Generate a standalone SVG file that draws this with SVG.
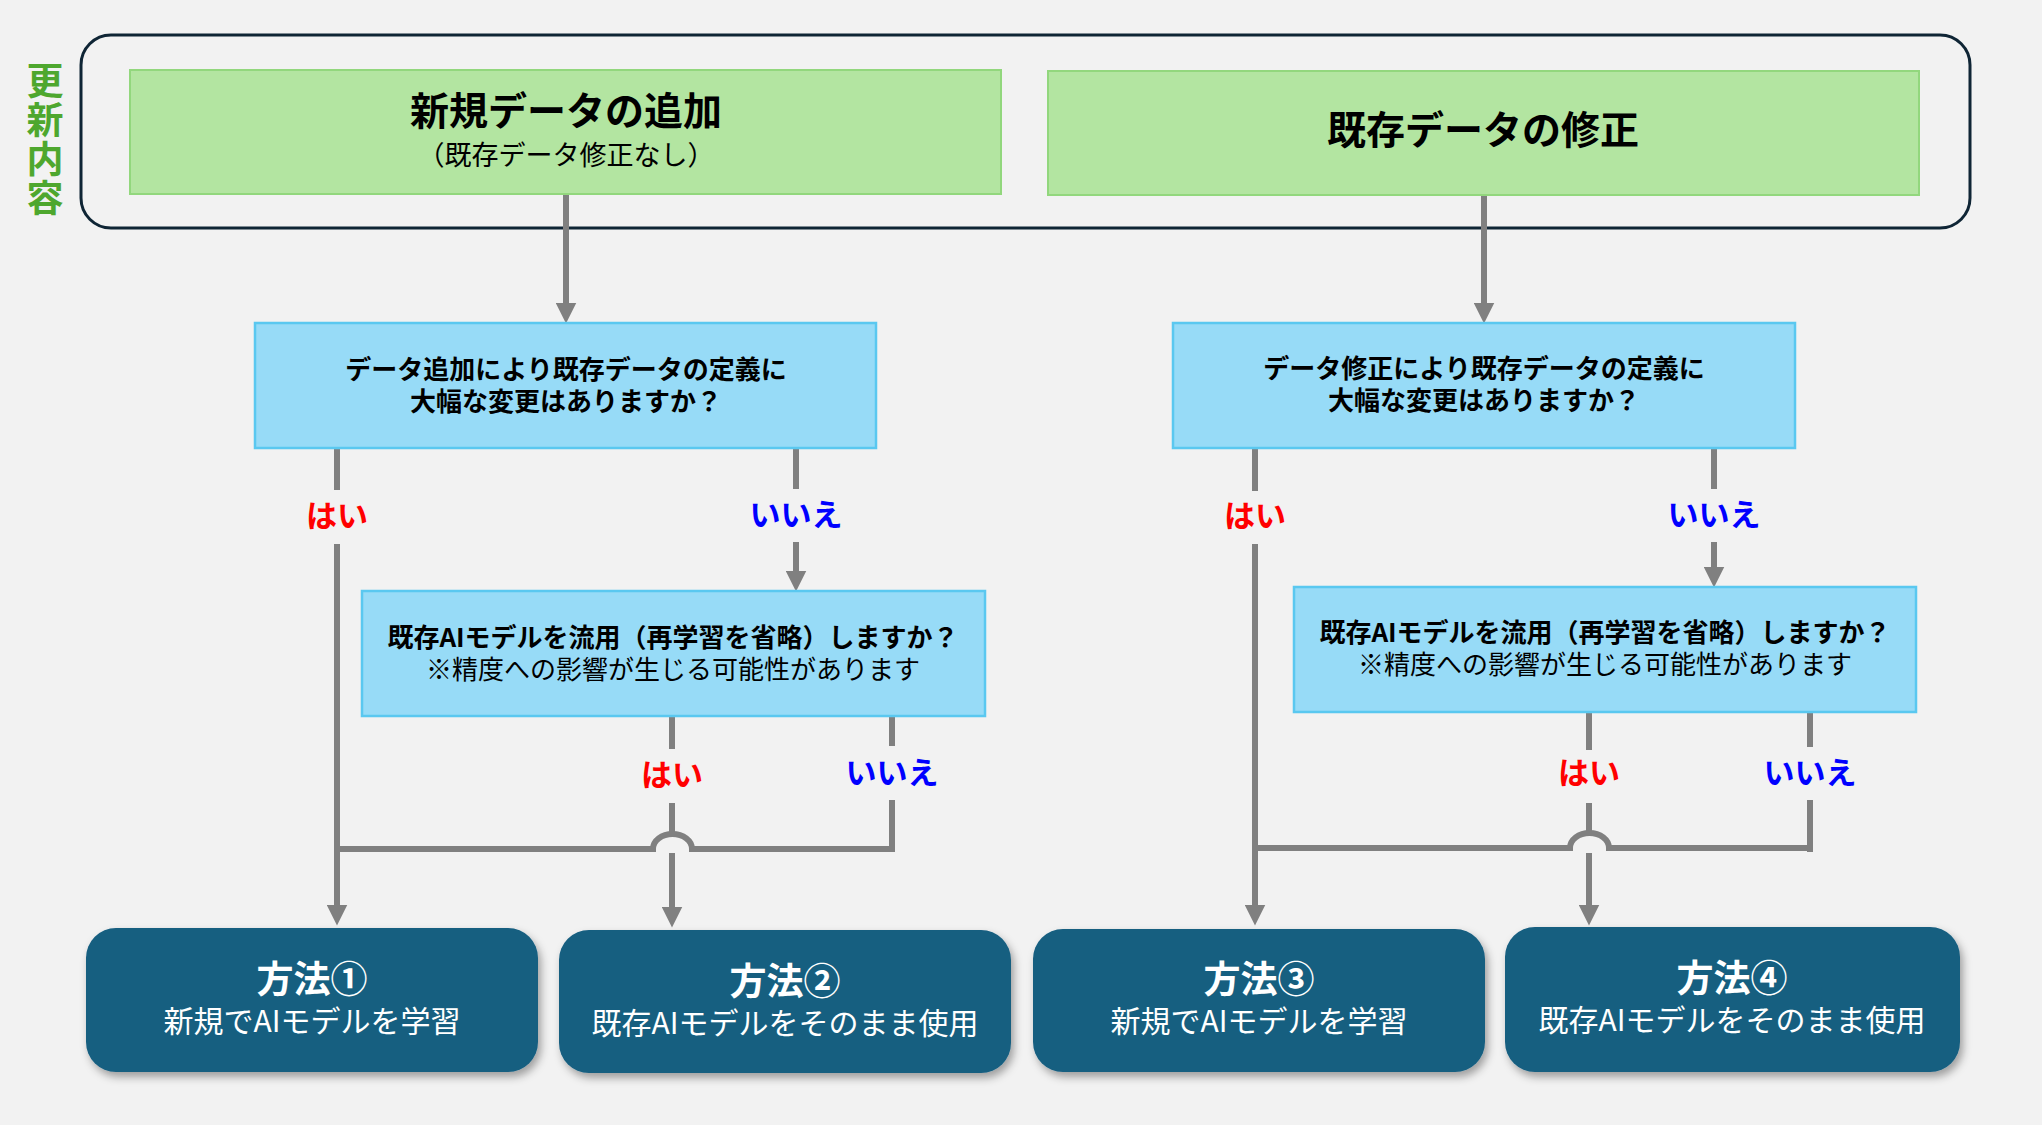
<svg xmlns="http://www.w3.org/2000/svg" width="2042" height="1125" viewBox="0 0 2042 1125">
<defs>
<style>
text{font-family:"Noto Sans CJK JP","Noto Sans",sans-serif;text-anchor:middle;dominant-baseline:central}
.b{font-weight:700}
.r{font-weight:400}
.green{fill:#b3e5a1;stroke:#92d77d;stroke-width:2}
.blue{fill:#97dbf7;stroke:#5ac8f0;stroke-width:2.5}
.method{fill:#175e80}
.conn{fill:none;stroke:#808080;stroke-width:6}
.yes{fill:#ff0000;font-weight:700;font-size:31px}
.no{fill:#0000ff;font-weight:700;font-size:31px}
.wt{fill:#ffffff}
</style>
<marker id="ah" markerUnits="userSpaceOnUse" viewBox="0 0 20 20" markerWidth="21" markerHeight="21" refX="10" refY="10" orient="auto">
<path d="M0,0 L20,10 L0,20 Z" fill="#808080"/>
</marker>
<filter id="sh" x="-10%" y="-10%" width="125%" height="130%">
<feDropShadow dx="3" dy="5" stdDeviation="4" flood-color="#000" flood-opacity="0.35"/>
</filter>
</defs>
<rect width="2042" height="1125" fill="#f2f2f2"/>

<g id="label-koushin">
<text x="45" y="140" class="b" font-size="37" fill="#4ea72e" writing-mode="vertical-rl" letter-spacing="2">更新内容</text>
</g>

<g id="frame">
<rect x="81" y="35" width="1889" height="193" rx="30" ry="30" fill="none" stroke="#0f2535" stroke-width="3"/>
</g>

<g id="connectors">
<path class="conn" d="M566 194 V313" marker-end="url(#ah)"/>
<path class="conn" d="M337 448 V490 M337 544 V915" marker-end="url(#ah)"/>
<path class="conn" d="M796 448 V489"/>
<path class="conn" d="M796 542 V581" marker-end="url(#ah)"/>
<path class="conn" d="M672 716 V749 M672 803 V834"/>
<path class="conn" d="M672 853 V917" marker-end="url(#ah)"/>
<path class="conn" d="M892 716 V746 M892 800 V852"/>
<path class="conn" d="M337 849 H653 A19.5 15 0 0 1 692 849 H892"/>

<path class="conn" d="M1484 195 V313" marker-end="url(#ah)"/>
<path class="conn" d="M1255 448 V491 M1255 544 V915" marker-end="url(#ah)"/>
<path class="conn" d="M1714 448 V489"/>
<path class="conn" d="M1714 542 V577" marker-end="url(#ah)"/>
<path class="conn" d="M1589 712 V750 M1589 803 V833"/>
<path class="conn" d="M1589 853 V915" marker-end="url(#ah)"/>
<path class="conn" d="M1810 712 V747 M1810 800 V852"/>
<path class="conn" d="M1255 848 H1570 A19.5 15 0 0 1 1609 848 H1810"/>

<text x="337" y="513" class="yes">はい</text>
<text x="796" y="512" class="no">いいえ</text>
<text x="672" y="772" class="yes">はい</text>
<text x="892" y="770" class="no">いいえ</text>
<text x="1255" y="513" class="yes">はい</text>
<text x="1714" y="512" class="no">いいえ</text>
<text x="1589" y="770" class="yes">はい</text>
<text x="1810" y="770" class="no">いいえ</text>
</g>

<g id="new-data">
<rect class="green" x="130" y="70" width="871" height="124"/>
<text><tspan x="566" y="108" class="b" font-size="39">新規データの追加</tspan><tspan x="566" y="153" class="r" font-size="27">（既存データ修正なし）</tspan></text>
</g>

<g id="modify-data">
<rect class="green" x="1048" y="71" width="871" height="124"/>
<text x="1483" y="127" class="b" font-size="39">既存データの修正</text>
</g>

<g id="q1-left">
<rect class="blue" x="255" y="323" width="621" height="125"/>
<text class="b" font-size="26"><tspan x="566" y="367">データ追加により既存データの定義に</tspan><tspan x="566" y="399">大幅な変更はありますか？</tspan></text>
</g>

<g id="q1-right">
<rect class="blue" x="1173" y="323" width="622" height="125"/>
<text class="b" font-size="26"><tspan x="1484" y="366">データ修正により既存データの定義に</tspan><tspan x="1484" y="398">大幅な変更はありますか？</tspan></text>
</g>

<g id="q2-left">
<rect class="blue" x="362" y="591" width="623" height="125"/>
<text font-size="26"><tspan x="673" y="635" class="b">既存AIモデルを流用（再学習を省略）しますか？</tspan><tspan x="673" y="667" class="r">※精度への影響が生じる可能性があります</tspan></text>
</g>

<g id="q2-right">
<rect class="blue" x="1294" y="587" width="622" height="125"/>
<text font-size="26"><tspan x="1605" y="630" class="b">既存AIモデルを流用（再学習を省略）しますか？</tspan><tspan x="1605" y="662" class="r">※精度への影響が生じる可能性があります</tspan></text>
</g>

<g id="method1">
<rect class="method" x="86" y="928" width="452" height="144" rx="30" ry="30" filter="url(#sh)"/>
<text class="wt"><tspan x="312" y="977" class="b" font-size="37">方法①</tspan><tspan x="312" y="1019" class="r" font-size="30">新規でAIモデルを学習</tspan></text>
</g>

<g id="method2">
<rect class="method" x="559" y="930" width="452" height="143" rx="30" ry="30" filter="url(#sh)"/>
<text class="wt"><tspan x="785" y="979" class="b" font-size="37">方法②</tspan><tspan x="785" y="1021" class="r" font-size="30">既存AIモデルをそのまま使用</tspan></text>
</g>

<g id="method3">
<rect class="method" x="1033" y="929" width="452" height="143" rx="30" ry="30" filter="url(#sh)"/>
<text class="wt"><tspan x="1259" y="977" class="b" font-size="37">方法③</tspan><tspan x="1259" y="1019" class="r" font-size="30">新規でAIモデルを学習</tspan></text>
</g>

<g id="method4">
<rect class="method" x="1505" y="927" width="455" height="145" rx="30" ry="30" filter="url(#sh)"/>
<text class="wt"><tspan x="1732" y="976" class="b" font-size="37">方法④</tspan><tspan x="1732" y="1018" class="r" font-size="30">既存AIモデルをそのまま使用</tspan></text>
</g>
</svg>
